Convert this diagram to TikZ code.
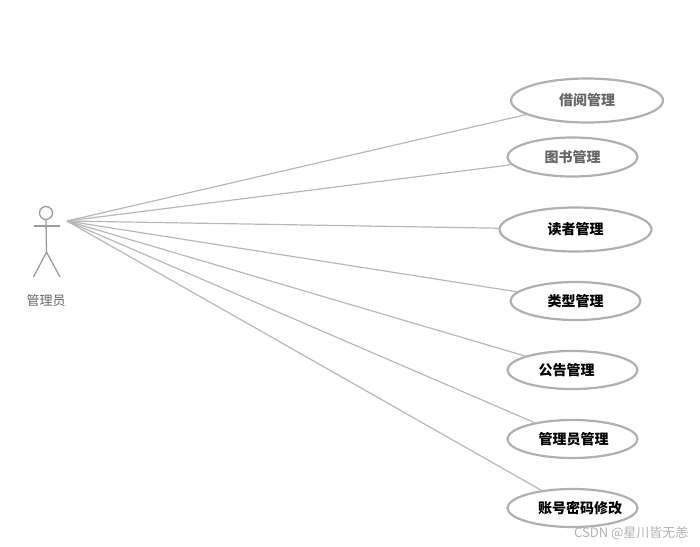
\documentclass[tikz,border=0pt]{standalone}
\usepackage{fontspec}
\setmainfont{Noto Sans CJK SC}
\usetikzlibrary{shapes.geometric}
\definecolor{linegray}{HTML}{B8B8B8}
\definecolor{edgegray}{HTML}{B0B0B0}
\definecolor{softtext}{HTML}{666666}
\tikzset{
  usecase/.style={ellipse,draw=edgegray,line width=2.2pt,fill=white,inner sep=0pt,font=\fontsize{14}{16}\selectfont\bfseries},
  link/.style={draw=linegray,line width=1.2pt},
  stick/.style={draw=linegray!85!black,line width=1.3pt},
}
\begin{document}
\begin{tikzpicture}[x=1pt,y=-1pt]
\useasboundingbox (0,0) rectangle (700,546);
\coordinate (src) at (67,221);
\node[usecase,minimum width=152pt,minimum height=44pt,text=softtext] (e1) at (587,100.5) {\makebox[0pt]{借阅管理}};
\node[usecase,minimum width=130pt,minimum height=39pt,text=softtext] (e2) at (572.5,157) {\makebox[0pt]{图书管理}};
\node[usecase,minimum width=152pt,minimum height=44pt] (e3) at (575.5,229.5) {\makebox[0pt]{读者管理}};
\node[usecase,minimum width=130pt,minimum height=38pt] (e4) at (575.5,301) {\makebox[0pt]{类型管理}};
\node[usecase,minimum width=130pt,minimum height=38pt] (e5) at (572.5,370) {\makebox[0pt]{\hspace{-12pt}公告管理}};
\node[usecase,minimum width=130pt,minimum height=38pt] (e6) at (572.5,439) {\makebox[0pt]{\hspace{2pt}管理员管理}};
\node[usecase,minimum width=130pt,minimum height=38pt] (e7) at (572.5,508) {\makebox[0pt]{\hspace{15pt}账号密码修改}};
\foreach \n in {e1,e2,e3,e4,e5,e6,e7} \draw[link] (src) -- (\n);
\node[circle,stick,draw,minimum size=13pt,inner sep=0pt] (head) at (46,213) {};
\coordinate (armL) at (33.5,226);
\coordinate (armR) at (60,226);
\coordinate (hip) at (46.5,252);
\coordinate (footL) at (33.5,277);
\coordinate (footR) at (60,277);
\draw[stick] (armL) -- (armR);
\draw[stick] (head.south) -- (hip);
\draw[stick] (footL) -- (hip) -- (footR);
\node[text=softtext,font=\fontsize{13}{15}\selectfont] (actor) at (46,301) {管理员};
\node[text=black!30,font=\fontsize{13}{15}\selectfont,anchor=east] (mark) at (692,533) {CSDN @星川皆无恙};
\end{tikzpicture}
\end{document}
